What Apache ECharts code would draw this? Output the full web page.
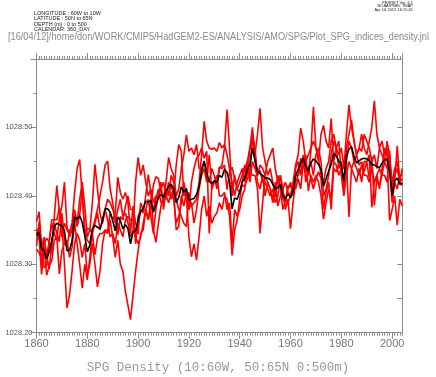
<!DOCTYPE html>
<html>
<head>
<meta charset="utf-8">
<title>SPG Density</title>
<script src="https://cdn.jsdelivr.net/npm/echarts@6/dist/echarts.min.js"></script>
<style>
    html, body { margin: 0; padding: 0; background: #fff; }
    #main { width: 436px; height: 377px; }
</style>
</head>
<body>
<div id="main"></div>
<script>
// annual values, 1860 .. 2004
var firstYear = 1860;
var lastYear = 2004;
var xLabelYears = [1860, 1880, 1900, 1920, 1940, 1960, 1980, 2000];

// ensemble mean (black)
var meanRho = [
    1028.342, 1028.347, 1028.323, 1028.320, 1028.308, 1028.318, 1028.335, 1028.355, 1028.360, 1028.358,
    1028.356, 1028.349, 1028.320, 1028.320, 1028.335, 1028.369, 1028.366, 1028.371, 1028.361, 1028.342,
    1028.318, 1028.328, 1028.352, 1028.357, 1028.354, 1028.352, 1028.364, 1028.381, 1028.381, 1028.376,
    1028.364, 1028.349, 1028.369, 1028.364, 1028.352, 1028.358, 1028.352, 1028.330, 1028.347, 1028.349,
    1028.364, 1028.377, 1028.382, 1028.392, 1028.391, 1028.393, 1028.376, 1028.387, 1028.398, 1028.402,
    1028.398, 1028.407, 1028.414, 1028.417, 1028.410, 1028.390, 1028.398, 1028.413, 1028.405, 1028.411,
    1028.394, 1028.395, 1028.396, 1028.402, 1028.414, 1028.436, 1028.451, 1028.433, 1028.421, 1028.418,
    1028.422, 1028.420, 1028.430, 1028.427, 1028.439, 1028.434, 1028.421, 1028.381, 1028.397, 1028.395,
    1028.406, 1028.421, 1028.426, 1028.439, 1028.445, 1028.470, 1028.451, 1028.436, 1028.433, 1028.430,
    1028.426, 1028.426, 1028.424, 1028.417, 1028.410, 1028.412, 1028.417, 1028.400, 1028.396, 1028.403,
    1028.397, 1028.407, 1028.429, 1028.439, 1028.448, 1028.455, 1028.443, 1028.436, 1028.448, 1028.454,
    1028.451, 1028.446, 1028.439, 1028.414, 1028.425, 1028.436, 1028.446, 1028.462, 1028.458, 1028.451,
    1028.446, 1028.422, 1028.458, 1028.468, 1028.472, 1028.458, 1028.448, 1028.451, 1028.454, 1028.455,
    1028.454, 1028.451, 1028.446, 1028.445, 1028.443, 1028.441, 1028.448, 1028.452, 1028.454, 1028.436,
    1028.400, 1028.422, 1028.426, 1028.417, 1028.419
];

// ensemble members (red)
var run1 = [
    1028.362, 1028.377, 1028.328, 1028.295, 1028.298, 1028.333, 1028.365, 1028.365, 1028.365, 1028.383,
    1028.360, 1028.300, 1028.236, 1028.255, 1028.290, 1028.330, 1028.345, 1028.335, 1028.310, 1028.330,
    1028.285, 1028.300, 1028.330, 1028.300, 1028.267, 1028.290, 1028.330, 1028.350, 1028.345, 1028.365,
    1028.340, 1028.310, 1028.335, 1028.300, 1028.290, 1028.260, 1028.240, 1028.219, 1028.255, 1028.290,
    1028.320, 1028.345, 1028.350, 1028.380, 1028.395, 1028.370, 1028.345, 1028.380, 1028.400, 1028.410,
    1028.420, 1028.400, 1028.390, 1028.405, 1028.395, 1028.360, 1028.370, 1028.390, 1028.420, 1028.400,
    1028.340, 1028.311, 1028.330, 1028.306, 1028.340, 1028.380, 1028.400, 1028.370, 1028.385, 1028.360,
    1028.370, 1028.375, 1028.390, 1028.380, 1028.400, 1028.395, 1028.370, 1028.313, 1028.350, 1028.365,
    1028.395, 1028.420, 1028.440, 1028.450, 1028.470, 1028.480, 1028.460, 1028.490, 1028.528, 1028.470,
    1028.450, 1028.430, 1028.440, 1028.420, 1028.400, 1028.430, 1028.410, 1028.380, 1028.395, 1028.410,
    1028.420, 1028.400, 1028.440, 1028.450, 1028.430, 1028.460, 1028.420, 1028.440, 1028.450, 1028.430,
    1028.460, 1028.470, 1028.450, 1028.400, 1028.410, 1028.430, 1028.460, 1028.480, 1028.470, 1028.460,
    1028.470, 1028.440, 1028.490, 1028.533, 1028.500, 1028.480, 1028.460, 1028.470, 1028.465, 1028.490,
    1028.480, 1028.470, 1028.450, 1028.460, 1028.440, 1028.470, 1028.460, 1028.450, 1028.480, 1028.460,
    1028.410, 1028.430, 1028.440, 1028.420, 1028.425
];
var run2 = [
    1028.322, 1028.317, 1028.308, 1028.330, 1028.338, 1028.333, 1028.315, 1028.370, 1028.415, 1028.378,
    1028.340, 1028.360, 1028.350, 1028.345, 1028.360, 1028.405, 1028.440, 1028.453, 1028.400, 1028.350,
    1028.335, 1028.330, 1028.350, 1028.365, 1028.380, 1028.400, 1028.420, 1028.445, 1028.451, 1028.410,
    1028.390, 1028.360, 1028.380, 1028.395, 1028.370, 1028.375, 1028.360, 1028.340, 1028.350, 1028.420,
    1028.456, 1028.430, 1028.445, 1028.420, 1028.400, 1028.410, 1028.390, 1028.400, 1028.395, 1028.420,
    1028.380, 1028.410, 1028.400, 1028.430, 1028.420, 1028.395, 1028.380, 1028.370, 1028.360, 1028.355,
    1028.405, 1028.385, 1028.390, 1028.395, 1028.420, 1028.460, 1028.509, 1028.480, 1028.470, 1028.468,
    1028.470, 1028.465, 1028.478, 1028.470, 1028.475, 1028.460, 1028.440, 1028.420, 1028.400, 1028.420,
    1028.430, 1028.440, 1028.420, 1028.450, 1028.430, 1028.490, 1028.470, 1028.430, 1028.445, 1028.440,
    1028.430, 1028.450, 1028.460, 1028.470, 1028.440, 1028.420, 1028.430, 1028.410, 1028.380, 1028.395,
    1028.352, 1028.390, 1028.420, 1028.430, 1028.455, 1028.440, 1028.450, 1028.460, 1028.470, 1028.480,
    1028.470, 1028.455, 1028.430, 1028.420, 1028.440, 1028.450, 1028.480, 1028.490, 1028.470, 1028.440,
    1028.450, 1028.410, 1028.470, 1028.490, 1028.511, 1028.480, 1028.460, 1028.470, 1028.490, 1028.470,
    1028.460, 1028.480, 1028.500, 1028.539, 1028.490, 1028.470, 1028.480, 1028.460, 1028.470, 1028.440,
    1028.390, 1028.420, 1028.410, 1028.430, 1028.430
];
var run3 = [
    1028.352, 1028.342, 1028.285, 1028.325, 1028.284, 1028.298, 1028.305, 1028.335, 1028.340, 1028.286,
    1028.320, 1028.330, 1028.335, 1028.310, 1028.325, 1028.360, 1028.330, 1028.300, 1028.265, 1028.300,
    1028.277, 1028.310, 1028.345, 1028.360, 1028.375, 1028.350, 1028.365, 1028.380, 1028.365, 1028.340,
    1028.345, 1028.330, 1028.360, 1028.350, 1028.340, 1028.365, 1028.370, 1028.365, 1028.365, 1028.340,
    1028.330, 1028.340, 1028.360, 1028.380, 1028.365, 1028.395, 1028.380, 1028.395, 1028.410, 1028.390,
    1028.390, 1028.420, 1028.456, 1028.440, 1028.430, 1028.400, 1028.410, 1028.440, 1028.460, 1028.489,
    1028.465, 1028.470, 1028.460, 1028.475, 1028.440, 1028.440, 1028.450, 1028.430, 1028.420, 1028.440,
    1028.430, 1028.410, 1028.440, 1028.445, 1028.470, 1028.526, 1028.470, 1028.400, 1028.430, 1028.410,
    1028.420, 1028.430, 1028.445, 1028.430, 1028.470, 1028.500, 1028.455, 1028.420, 1028.410, 1028.430,
    1028.400, 1028.420, 1028.410, 1028.395, 1028.420, 1028.385, 1028.400, 1028.410, 1028.420, 1028.405,
    1028.400, 1028.415, 1028.410, 1028.425, 1028.410, 1028.450, 1028.460, 1028.407, 1028.430, 1028.420,
    1028.430, 1028.420, 1028.400, 1028.366, 1028.390, 1028.410, 1028.397, 1028.450, 1028.445, 1028.430,
    1028.440, 1028.420, 1028.450, 1028.480, 1028.470, 1028.450, 1028.440, 1028.430, 1028.445, 1028.430,
    1028.430, 1028.420, 1028.440, 1028.420, 1028.430, 1028.410, 1028.440, 1028.470, 1028.460, 1028.364,
    1028.380, 1028.400, 1028.357, 1028.395, 1028.385
];
var run4 = [
    1028.327, 1028.362, 1028.298, 1028.340, 1028.313, 1028.333, 1028.360, 1028.345, 1028.335, 1028.368,
    1028.385, 1028.420, 1028.355, 1028.340, 1028.350, 1028.380, 1028.360, 1028.395, 1028.420, 1028.385,
    1028.340, 1028.350, 1028.390, 1028.446, 1028.410, 1028.375, 1028.360, 1028.380, 1028.395, 1028.390,
    1028.380, 1028.370, 1028.343, 1028.370, 1028.365, 1028.385, 1028.400, 1028.380, 1028.380, 1028.330,
    1028.370, 1028.380, 1028.375, 1028.400, 1028.431, 1028.405, 1028.350, 1028.332, 1028.360, 1028.385,
    1028.400, 1028.395, 1028.420, 1028.395, 1028.405, 1028.350, 1028.355, 1028.400, 1028.385, 1028.405,
    1028.380, 1028.390, 1028.360, 1028.380, 1028.410, 1028.430, 1028.440, 1028.420, 1028.460, 1028.410,
    1028.420, 1028.430, 1028.400, 1028.400, 1028.405, 1028.380, 1028.390, 1028.330, 1028.380, 1028.370,
    1028.380, 1028.400, 1028.410, 1028.440, 1028.420, 1028.450, 1028.440, 1028.430, 1028.437, 1028.420,
    1028.420, 1028.410, 1028.400, 1028.410, 1028.390, 1028.400, 1028.430, 1028.405, 1028.395, 1028.390,
    1028.400, 1028.420, 1028.445, 1028.460, 1028.499, 1028.480, 1028.450, 1028.430, 1028.465, 1028.530,
    1028.470, 1028.450, 1028.490, 1028.503, 1028.480, 1028.470, 1028.513, 1028.450, 1028.470, 1028.480,
    1028.430, 1028.400, 1028.430, 1028.450, 1028.440, 1028.430, 1028.420, 1028.440, 1028.420, 1028.450,
    1028.450, 1028.460, 1028.383, 1028.420, 1028.430, 1028.440, 1028.430, 1028.450, 1028.440, 1028.450,
    1028.420, 1028.440, 1028.450, 1028.420, 1028.415
];
var run5 = [
    1028.347, 1028.337, 1028.338, 1028.310, 1028.312, 1028.293, 1028.330, 1028.360, 1028.345, 1028.333,
    1028.375, 1028.335, 1028.325, 1028.350, 1028.350, 1028.370, 1028.355, 1028.372, 1028.410, 1028.345,
    1028.353, 1028.350, 1028.345, 1028.314, 1028.338, 1028.345, 1028.345, 1028.350, 1028.349, 1028.375,
    1028.365, 1028.375, 1028.427, 1028.405, 1028.395, 1028.405, 1028.390, 1028.346, 1028.385, 1028.361,
    1028.344, 1028.390, 1028.380, 1028.380, 1028.365, 1028.385, 1028.415, 1028.428, 1028.425, 1028.405,
    1028.400, 1028.410, 1028.404, 1028.415, 1028.400, 1028.445, 1028.475, 1028.465, 1028.400, 1028.406,
    1028.380, 1028.420, 1028.440, 1028.455, 1028.460, 1028.470, 1028.455, 1028.465, 1028.345, 1028.412,
    1028.420, 1028.420, 1028.442, 1028.440, 1028.445, 1028.409, 1028.435, 1028.442, 1028.425, 1028.410,
    1028.405, 1028.415, 1028.415, 1028.425, 1028.435, 1028.430, 1028.430, 1028.410, 1028.345, 1028.390,
    1028.430, 1028.420, 1028.410, 1028.390, 1028.400, 1028.425, 1028.415, 1028.395, 1028.390, 1028.415,
    1028.413, 1028.410, 1028.430, 1028.430, 1028.446, 1028.455, 1028.435, 1028.443, 1028.425, 1028.410,
    1028.425, 1028.435, 1028.425, 1028.381, 1028.405, 1028.420, 1028.380, 1028.440, 1028.435, 1028.445,
    1028.440, 1028.440, 1028.450, 1028.369, 1028.440, 1028.450, 1028.460, 1028.445, 1028.450, 1028.435,
    1028.450, 1028.425, 1028.457, 1028.386, 1028.425, 1028.415, 1028.430, 1028.430, 1028.420, 1028.466,
    1028.400, 1028.420, 1028.473, 1028.420, 1028.440
];

var headerLeft = ['LONGITUDE : 60W to 10W', 'LATITUDE : 50N to 65N', 'DEPTH (m) : 0 to 500', 'CALENDAR: 360_DAY'];
var headerRight = ['FERRET Ver. 6.1', 'NOAA/PMEL TMAP', 'Apr 16 2012 16:15:41'];
var pathText = '[16/04/12]/home/don/WORK/CMIP5/HadGEM2-ES/ANALYSIS/AMO/SPG/Plot_SPG_indices_density.jnl';
var xTitle = 'SPG Density (10:60W, 50:65N 0:500m)';

(function() {
    var chart = echarts.init(document.getElementById('main'), null, { renderer: 'canvas' });
    var axisGray = '#8c8c8c';
    var gridBox = { left: 36.5, right: 33.7, top: 59, bottom: 44.3 };

    function toPairs(arr) {
        return arr.map(function(v, i) { return [firstYear + i, v]; });
    }

    function redLine(arr) {
        return {
            type: 'line',
            data: toPairs(arr),
            showSymbol: false,
            silent: true,
            lineStyle: { color: '#ff0000', width: 1.6 },
            z: 2
        };
    }

    var graphics = [];
    headerLeft.forEach(function(t, i) {
        graphics.push({ type: 'text', x: 34, y: 10 + i * 5.6,
            style: { text: t, font: '5.5px "Liberation Sans"', fill: '#222', verticalAlign: 'top' } });
    });
    headerRight.forEach(function(t, i) {
        graphics.push({ type: 'text', x: 413, y: 0.5 + i * 3.8,
            style: { text: t, font: '4px "Liberation Sans"', fill: '#222', align: 'right', verticalAlign: 'top' } });
    });
    // Ferret's stroke font is narrow, squeeze the path line
    graphics.push({ type: 'text', x: 8, y: 32, scaleX: 0.875,
        style: { text: pathText, font: '10.5px "Liberation Sans"', fill: '#8a8a8a', verticalAlign: 'top' } });
    graphics.push({ type: 'text', x: 218, y: 361,
        style: { text: xTitle, font: '12.5px "Liberation Mono"', fill: '#9a9a9a', align: 'center', verticalAlign: 'top' } });

    var option = {
        animation: false,
        backgroundColor: '#ffffff',
        grid: [
            { left: gridBox.left, right: gridBox.right, top: gridBox.top, bottom: gridBox.bottom },
            { left: gridBox.left, right: gridBox.right, top: gridBox.top, bottom: gridBox.bottom }
        ],
        xAxis: [{
            // bottom, major ticks + labels
            type: 'value', gridIndex: 0, position: 'bottom',
            min: firstYear, max: lastYear, interval: 20,
            axisLine: { show: true, lineStyle: { color: axisGray, width: 1 } },
            axisTick: { show: true, length: 6, lineStyle: { color: axisGray } },
            axisLabel: {
                show: true, margin: 6, color: '#777', fontSize: 11, fontFamily: 'Liberation Sans',
                showMaxLabel: false,
                formatter: function(v) { return xLabelYears.indexOf(v) >= 0 ? String(v) : ''; }
            },
            splitLine: { show: false }
        }, {
            // top, major ticks
            type: 'value', gridIndex: 0, position: 'top',
            min: firstYear, max: lastYear, interval: 20,
            axisLine: { show: true, lineStyle: { color: axisGray, width: 1 } },
            axisTick: { show: true, length: 6, lineStyle: { color: axisGray } },
            axisLabel: { show: false },
            splitLine: { show: false }
        }, {
            // yearly ticks bottom
            type: 'value', gridIndex: 1, position: 'bottom',
            min: firstYear, max: lastYear, interval: 1,
            axisLine: { show: false },
            axisTick: { show: true, length: 3, lineStyle: { color: axisGray } },
            axisLabel: { show: false },
            splitLine: { show: false }
        }, {
            // yearly ticks top
            type: 'value', gridIndex: 1, position: 'top',
            min: firstYear, max: lastYear, interval: 1,
            axisLine: { show: false },
            axisTick: { show: true, length: 3, lineStyle: { color: axisGray } },
            axisLabel: { show: false },
            splitLine: { show: false }
        }],
        yAxis: [{
            type: 'value', gridIndex: 0, position: 'left',
            min: 1028.2, max: 1028.6, interval: 0.1,
            axisLine: { show: true, lineStyle: { color: axisGray, width: 1 } },
            axisTick: { show: true, length: 6, lineStyle: { color: axisGray } },
            minorTick: { show: true, splitNumber: 2, length: 3, lineStyle: { color: axisGray } },
            axisLabel: {
                show: true, margin: 4, color: '#555', fontSize: 7.5, fontFamily: 'Liberation Sans',
                showMaxLabel: false,
                formatter: function(v) { return v.toFixed(2); }
            },
            splitLine: { show: false }
        }, {
            type: 'value', gridIndex: 0, position: 'right',
            min: 1028.2, max: 1028.6, interval: 0.05,
            axisLine: { show: true, lineStyle: { color: axisGray, width: 1 } },
            axisTick: { show: true, inside: true, length: 5, lineStyle: { color: axisGray } },
            axisLabel: { show: false },
            splitLine: { show: false }
        }, {
            type: 'value', gridIndex: 1, show: false,
            min: 1028.2, max: 1028.6
        }],
        graphic: graphics,
        series: [
            redLine(run1),
            redLine(run2),
            redLine(run3),
            redLine(run4),
            redLine(run5),
            {
                type: 'line',
                data: toPairs(meanRho),
                showSymbol: false,
                silent: true,
                lineStyle: { color: '#000000', width: 1.6 },
                z: 3
            }
        ]
    };
    chart.setOption(option);
})();
</script>
</body>
</html>
